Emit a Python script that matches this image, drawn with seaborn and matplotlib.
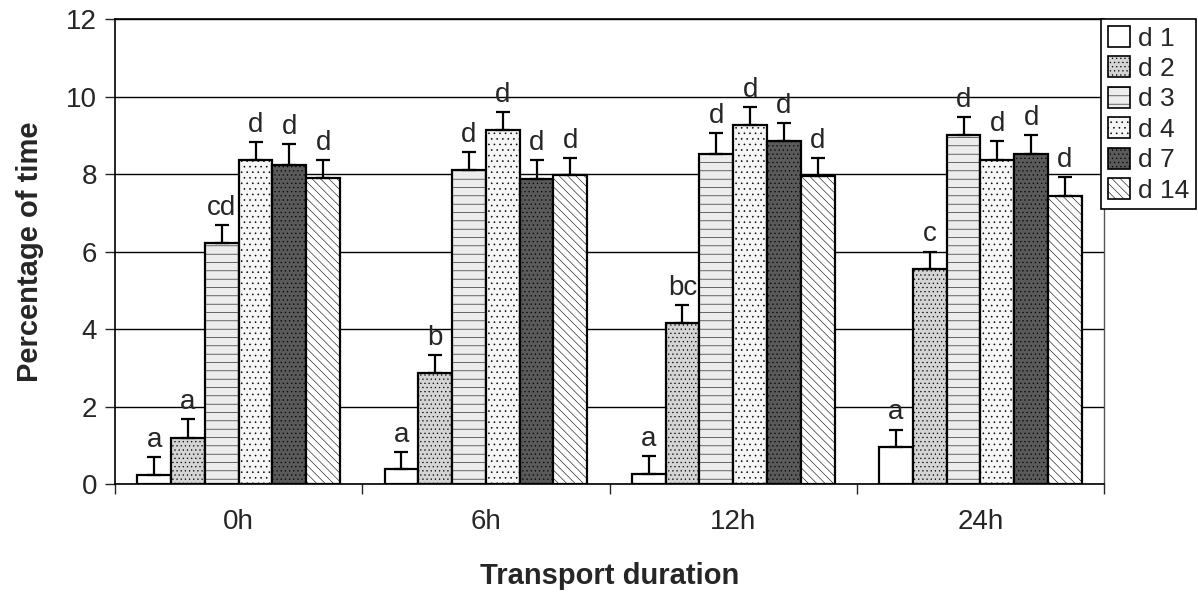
import matplotlib
matplotlib.use("Agg")
import matplotlib.pyplot as plt
import seaborn as sns
import pandas as pd
from matplotlib.patches import Patch

categories = ["0h", "6h", "12h", "24h"]
series = ["d 1", "d 2", "d 3", "d 4", "d 7", "d 14"]
values = {
    "d 1": [0.23, 0.38, 0.26, 0.95],
    "d 2": [1.18, 2.87, 4.15, 5.54],
    "d 3": [6.23, 8.10, 8.51, 9.00],
    "d 4": [8.36, 9.13, 9.26, 8.36],
    "d 7": [8.23, 7.87, 8.85, 8.51],
    "d 14": [7.90, 7.97, 7.95, 7.44],
}
errors = {
    "d 1": [0.46, 0.44, 0.46, 0.46],
    "d 2": [0.49, 0.46, 0.47, 0.46],
    "d 3": [0.46, 0.46, 0.54, 0.46],
    "d 4": [0.46, 0.46, 0.46, 0.49],
    "d 7": [0.54, 0.49, 0.46, 0.49],
    "d 14": [0.46, 0.44, 0.46, 0.48],
}
letters = {
    "d 1": ["a", "a", "a", "a"],
    "d 2": ["a", "b", "bc", "c"],
    "d 3": ["cd", "d", "d", "d"],
    "d 4": ["d", "d", "d", "d"],
    "d 7": ["d", "d", "d", "d"],
    "d 14": ["d", "d", "d", "d"],
}
fills = {"d 1": "#ffffff", "d 2": "#d4d4d4", "d 3": "#ececec",
         "d 4": "#f6f6f6", "d 7": "#5a5a5a", "d 14": "#ffffff"}
hatches = {"d 1": "", "d 2": "....", "d 3": "--", "d 4": "...",
           "d 7": "....", "d 14": "\\\\\\\\"}

rows = []
for s in series:
    for c, v in zip(categories, values[s]):
        rows.append({"Transport duration": c, "series": s, "value": v})
df = pd.DataFrame(rows)

sns.set_style("white")
plt.rcParams["font.family"] = ["Liberation Sans", "DejaVu Sans"]
plt.rcParams["hatch.linewidth"] = 0.4

fig = plt.figure(figsize=(11.98, 6.03), dpi=100)
ax = fig.add_axes([0.096, 0.197, 0.8256, 0.7715])

sns.barplot(data=df, x="Transport duration", y="value", hue="series",
            order=categories, hue_order=series,
            palette=[fills[s] for s in series], width=0.82,
            edgecolor="black", linewidth=1.6, errorbar=None, ax=ax,
            legend=False, saturation=1)

for s, cont in zip(series, ax.containers):
    xs = []
    for p in cont.patches:
        p.set_hatch(hatches[s])
        p.set_edgecolor("black")
        xs.append(p.get_x() + p.get_width() / 2)
    ax.errorbar(xs, values[s], yerr=[[0] * len(xs), errors[s]], fmt="none",
                ecolor="black", elinewidth=1.6, capsize=5, capthick=1.6,
                zorder=3)
    for x, v, e, t in zip(xs, values[s], errors[s], letters[s]):
        ax.annotate(t, (x, v + e), xytext=(0, 3), textcoords="offset points",
                    ha="center", va="bottom", fontsize=20)

ax.set_xlim(-0.5, 3.5)
ax.set_ylim(0, 12)
ax.set_yticks(range(0, 13, 2))
ax.yaxis.grid(True, color="black", linewidth=1.0)
ax.set_axisbelow(True)
ax.tick_params(axis="y", which="major", left=True, length=7, width=1,
               labelsize=20, pad=6)
ax.tick_params(axis="x", which="major", bottom=False, labelsize=20, pad=14)
ax.set_xticks([-0.5, 0.5, 1.5, 2.5, 3.5], minor=True)
ax.tick_params(axis="x", which="minor", bottom=True, length=7, width=1)
for side in ["left", "bottom", "top"]:
    ax.spines[side].set_color("black")
    ax.spines[side].set_linewidth(1.2)
ax.spines["right"].set_color("#555555")
ax.spines["right"].set_linewidth(1.0)
ax.set_xlabel("Transport duration", fontsize=21, fontweight="bold", labelpad=20)
ax.set_ylabel("Percentage of time", fontsize=21, fontweight="bold", labelpad=16)

handles = [Patch(facecolor=fills[s], hatch=hatches[s], edgecolor="black",
                 linewidth=1.2, label=s) for s in series]
leg = fig.legend(handles=handles, loc="upper left",
                 bbox_to_anchor=(0.919, 0.968), fontsize=19, frameon=True,
                 fancybox=False, edgecolor="black", framealpha=1,
                 handlelength=0.85, handleheight=0.85, handletextpad=0.3,
                 labelspacing=0.22, borderpad=0.25, borderaxespad=0)
leg.get_frame().set_linewidth(1.2)

fig.savefig("out.png", dpi=100)
